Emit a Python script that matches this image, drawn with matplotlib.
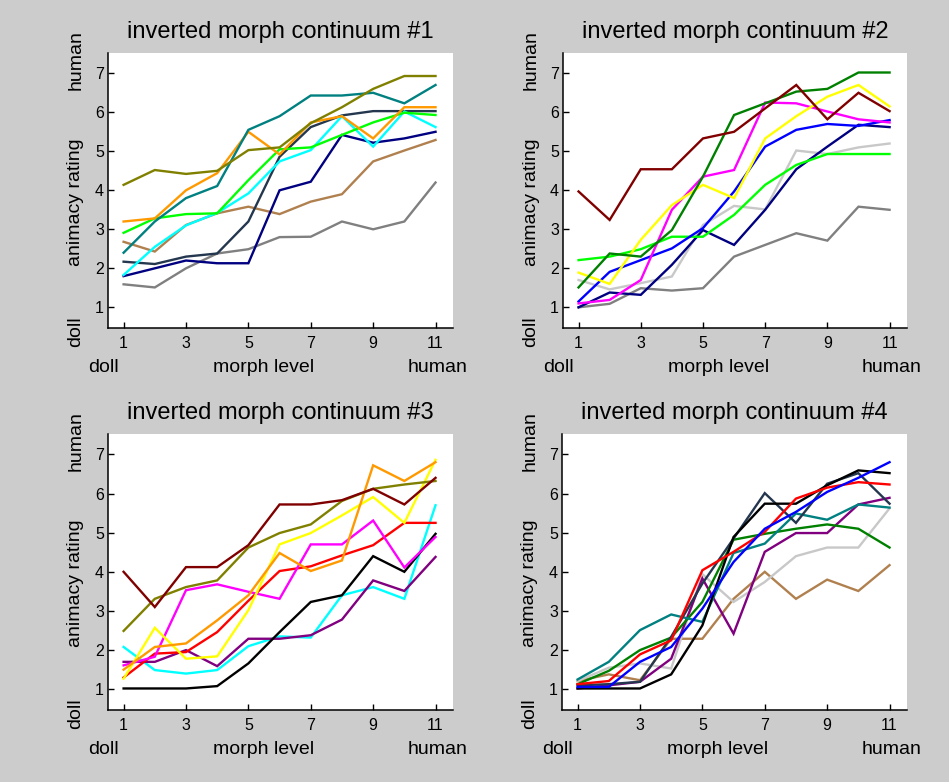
import matplotlib
matplotlib.use("Agg")
import matplotlib.pyplot as plt
import numpy as np

plt.rcParams['font.family'] = ['Liberation Sans', 'DejaVu Sans']

morph = list(range(1, 12))
xticks = [1, 3, 5, 7, 9, 11]
yticks = [1, 2, 3, 4, 5, 6, 7]

# colour names used across the four panels
C = {
    'olive': '#808000', 'teal': '#008080', 'orange': '#ff9900', 'lime': '#00ff00',
    'cyan': '#00ffff', 'slate': '#24374f', 'navy': '#000080', 'tan': '#b0804f',
    'gray': '#808080', 'lightgray': '#c8c8c8', 'darkred': '#800000', 'green': '#008000',
    'magenta': '#ff00ff', 'yellow': '#ffff00', 'blue': '#0000ff', 'red': '#ff0000',
    'black': '#000000', 'purple': '#800080',
}

# continuum 1
c1_gray = [1.59, 1.51, 2.0, 2.38, 2.49, 2.8, 2.81, 3.2, 3.0, 3.2, 4.2]
c1_tan = [2.68, 2.43, 3.11, 3.41, 3.58, 3.39, 3.71, 3.9, 4.74, 5.02, 5.29]
c1_navy = [1.8, 2.0, 2.2, 2.13, 2.13, 4.0, 4.22, 5.42, 5.22, 5.33, 5.5]
c1_slate = [2.17, 2.11, 2.3, 2.38, 3.2, 4.86, 5.62, 5.92, 6.03, 6.03, 6.03]
c1_cyan = [1.83, 2.55, 3.1, 3.42, 3.92, 4.74, 5.03, 5.9, 5.12, 6.02, 5.62]
c1_lime = [2.91, 3.28, 3.39, 3.41, 4.26, 5.05, 5.1, 5.42, 5.74, 5.99, 5.93]
c1_orange = [3.2, 3.28, 4.0, 4.44, 5.5, 4.92, 5.74, 5.9, 5.33, 6.13, 6.13]
c1_teal = [2.4, 3.2, 3.8, 4.11, 5.55, 5.9, 6.43, 6.43, 6.5, 6.23, 6.7]
c1_olive = [4.14, 4.52, 4.42, 4.5, 5.03, 5.1, 5.72, 6.13, 6.6, 6.93, 6.93]

# continuum 2
c2_gray = [1.0, 1.09, 1.49, 1.43, 1.49, 2.3, 2.6, 2.9, 2.71, 3.58, 3.5]
c2_lightgray = [1.7, 1.46, 1.62, 1.79, 3.11, 3.6, 3.51, 5.02, 4.93, 5.1, 5.2]
c2_navy = [1.0, 1.38, 1.32, 2.09, 2.98, 2.6, 3.5, 4.54, 5.12, 5.68, 5.62]
c2_lime = [2.21, 2.3, 2.49, 2.81, 2.81, 3.37, 4.14, 4.65, 4.93, 4.93, 4.93]
c2_blue = [1.15, 1.91, 2.21, 2.51, 3.03, 3.97, 5.12, 5.55, 5.7, 5.65, 5.8]
c2_magenta = [1.1, 1.19, 1.7, 3.5, 4.35, 4.52, 6.25, 6.23, 6.02, 5.82, 5.74]
c2_yellow = [1.89, 1.6, 2.73, 3.62, 4.14, 3.8, 5.33, 5.9, 6.4, 6.7, 6.15]
c2_green = [1.51, 2.38, 2.3, 2.98, 4.35, 5.93, 6.23, 6.53, 6.6, 7.02, 7.02]
c2_darkred = [3.97, 3.24, 4.54, 4.54, 5.33, 5.5, 6.1, 6.7, 5.82, 6.5, 6.03]

# continuum 3
c3_cyan = [2.08, 1.49, 1.4, 1.49, 2.1, 2.35, 2.32, 3.4, 3.61, 3.31, 5.7]
c3_purple = [1.7, 1.7, 2.0, 1.59, 2.29, 2.29, 2.38, 2.78, 3.78, 3.51, 4.38]
c3_black = [1.02, 1.02, 1.02, 1.08, 1.66, 2.46, 3.23, 3.4, 4.4, 4.0, 4.97]
c3_red = [1.3, 1.91, 1.95, 2.46, 3.26, 4.02, 4.14, 4.42, 4.68, 5.25, 5.25]
c3_magenta = [1.61, 1.83, 3.53, 3.68, 3.49, 3.31, 4.7, 4.7, 5.31, 4.11, 4.89]
c3_yellow = [1.27, 2.57, 1.78, 1.84, 3.02, 4.7, 4.99, 5.44, 5.91, 5.25, 6.86]
c3_orange = [1.5, 2.08, 2.17, 2.76, 3.4, 4.48, 4.02, 4.29, 6.72, 6.32, 6.8]
c3_olive = [2.49, 3.31, 3.61, 3.78, 4.62, 4.99, 5.21, 5.81, 6.12, 6.23, 6.32]
c3_darkred = [4.0, 3.1, 4.12, 4.12, 4.68, 5.72, 5.72, 5.83, 6.12, 5.72, 6.4]

# continuum 4
c4_tan = [1.21, 1.38, 1.23, 2.29, 2.29, 3.31, 4.0, 3.31, 3.8, 3.51, 4.17]
c4_lightgray = [1.21, 1.55, 1.66, 1.53, 3.94, 3.23, 3.74, 4.4, 4.62, 4.62, 5.62]
c4_purple = [1.02, 1.1, 1.19, 1.78, 3.83, 2.42, 4.51, 4.99, 4.99, 5.72, 5.89]
c4_green = [1.13, 1.47, 2.0, 2.32, 3.23, 4.82, 4.97, 5.1, 5.21, 5.1, 4.62]
c4_teal = [1.25, 1.7, 2.51, 2.91, 2.72, 4.48, 4.72, 5.49, 5.33, 5.72, 5.64]
c4_slate = [1.1, 1.13, 1.19, 2.34, 3.7, 4.85, 6.01, 5.25, 6.25, 6.52, 5.74]
c4_black = [1.02, 1.02, 1.02, 1.38, 2.63, 4.89, 5.74, 5.74, 6.21, 6.59, 6.52]
c4_red = [1.13, 1.21, 1.89, 2.25, 4.04, 4.51, 5.02, 5.87, 6.15, 6.29, 6.23]
c4_blue = [1.06, 1.06, 1.7, 2.08, 3.06, 4.25, 5.1, 5.53, 6.04, 6.4, 6.8]

panels = [
    ("inverted morph continuum #1", [
        (c1_gray, 'gray'), (c1_tan, 'tan'), (c1_navy, 'navy'), (c1_slate, 'slate'),
        (c1_cyan, 'cyan'), (c1_lime, 'lime'), (c1_orange, 'orange'), (c1_teal, 'teal'),
        (c1_olive, 'olive')]),
    ("inverted morph continuum #2", [
        (c2_gray, 'gray'), (c2_lightgray, 'lightgray'), (c2_navy, 'navy'), (c2_lime, 'lime'),
        (c2_blue, 'blue'), (c2_magenta, 'magenta'), (c2_yellow, 'yellow'), (c2_green, 'green'),
        (c2_darkred, 'darkred')]),
    ("inverted morph continuum #3", [
        (c3_cyan, 'cyan'), (c3_purple, 'purple'), (c3_black, 'black'), (c3_red, 'red'),
        (c3_magenta, 'magenta'), (c3_yellow, 'yellow'), (c3_orange, 'orange'),
        (c3_olive, 'olive'), (c3_darkred, 'darkred')]),
    ("inverted morph continuum #4", [
        (c4_tan, 'tan'), (c4_lightgray, 'lightgray'), (c4_purple, 'purple'), (c4_green, 'green'),
        (c4_teal, 'teal'), (c4_slate, 'slate'), (c4_black, 'black'), (c4_red, 'red'),
        (c4_blue, 'blue')]),
]

W, H = 949, 782
fig = plt.figure(figsize=(W / 100, H / 100), dpi=100, facecolor='#cccccc')

# axes boxes in pixels: left, right, top, bottom
boxes = [(108, 453, 53, 328), (563, 907, 53, 328),
         (108, 453, 434, 710), (562, 907, 434, 710)]

for (title, series), (l, r, t, b) in zip(panels, boxes):
    ax = fig.add_axes([l / W, 1 - b / H, (r - l) / W, (b - t) / H])
    ax.set_facecolor('white')
    for vals, cname in series:
        ax.plot(morph, vals, color=C[cname], lw=1.7, solid_joinstyle='miter')
    ax.set_xlim(0.5, 11.56)
    ax.set_ylim(0.47, 7.52)
    ax.set_xticks(xticks)
    ax.set_yticks(yticks)
    ax.tick_params(direction='in', length=4, width=1, labelsize=11.5, colors='black')
    ax.tick_params(axis='x', pad=6)
    ax.tick_params(axis='y', pad=3)
    for s in ['top', 'right']:
        ax.spines[s].set_visible(False)
    for s in ['left', 'bottom']:
        ax.spines[s].set_linewidth(1.1)
    ax.set_title(title, fontsize=17, pad=11)

    ytr = ax.get_yaxis_transform()
    ax.text(-0.093, 7.34, "human", transform=ytr, rotation=90, ha='center', va='center',
            fontsize=14, clip_on=False)
    ax.text(-0.093, 3.7, "animacy rating", transform=ytr, rotation=90, ha='center',
            va='center', fontsize=14, clip_on=False)
    ax.text(-0.093, 0.37, "doll", transform=ytr, rotation=90, ha='center', va='center',
            fontsize=14, clip_on=False)

    xtr = ax.get_xaxis_transform()
    ax.text(0.36, -0.142, "doll", transform=xtr, ha='center', va='center', fontsize=14,
            clip_on=False)
    ax.text(5.5, -0.142, "morph level", transform=xtr, ha='center', va='center',
            fontsize=14, clip_on=False)
    ax.text(11.06, -0.142, "human", transform=xtr, ha='center', va='center', fontsize=14,
            clip_on=False)

fig.savefig("out.png", dpi=100, facecolor=fig.get_facecolor())
